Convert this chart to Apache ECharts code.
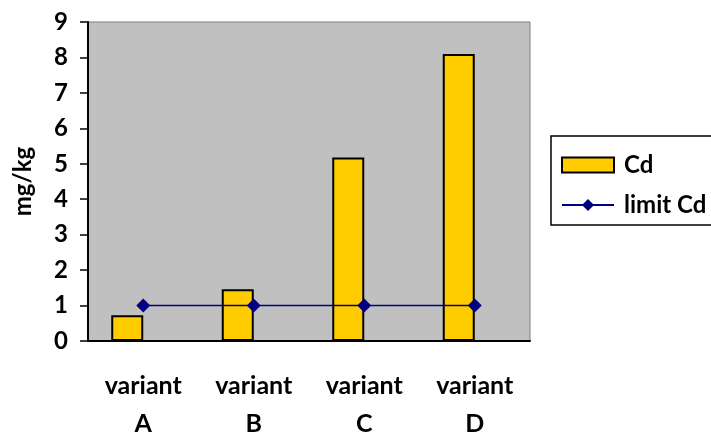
<!DOCTYPE html>
<html>
<head>
<meta charset="utf-8">
<script src="https://cdn.jsdelivr.net/npm/echarts@6/dist/echarts.min.js"></script>
<style>html,body{margin:0;padding:0;background:#fff}#c{width:711px;height:432px}</style>
</head>
<body>
<div id="c"></div>
<script>
const categories = ['variant\nA', 'variant\nB', 'variant\nC', 'variant\nD'];
const cdValues = [0.73, 1.46, 5.18, 8.1];
const limitValues = [1, 1, 1, 1];
const yTicks = [0, 1, 2, 3, 4, 5, 6, 7, 8, 9];

const font = 'Lato, "Open Sans", sans-serif';
const chart = echarts.init(document.getElementById('c'), null, {renderer: 'canvas'});
chart.setOption({
  animation: false,
  backgroundColor: '#ffffff',
  grid: {left: 88, right: 181, top: 22, bottom: 91, show: true, backgroundColor: '#C0C0C0',
         borderColor: '#808080', borderWidth: 1, containLabel: false, outerBoundsMode: 'none'},
  xAxis: {
    type: 'category', data: categories, boundaryGap: true,
    axisLine: {lineStyle: {color: '#000', width: 2}},
    axisTick: {interval: 0, length: 10, lineStyle: {color: '#000', width: 1.5}},
    axisLabel: {interval: 0, margin: 26, color: '#000', fontFamily: font, fontWeight: 'bold', fontSize: 25, lineHeight: 38}
  },
  yAxis: {
    type: 'value', min: yTicks[0], max: yTicks[yTicks.length - 1], interval: 1,
    name: 'mg/kg', nameLocation: 'middle', nameGap: 53, nameRotate: 90,
    nameTextStyle: {color: '#000', fontFamily: font, fontWeight: 'bold', fontSize: 24},
    splitLine: {show: false},
    axisLine: {show: true, lineStyle: {color: '#000', width: 2}},
    axisTick: {show: true, length: 8, lineStyle: {color: '#000', width: 1.5}},
    axisLabel: {margin: 20, color: '#000', fontFamily: font, fontWeight: 'bold', fontSize: 24}
  },
  legend: {
    orient: 'vertical', left: 551, top: 136,
    padding: [17, 60, 8, 10],
    borderColor: '#000', borderWidth: 1.5,
    itemWidth: 52, itemHeight: 15, itemGap: 16,
    data: [{name: 'Cd', icon: 'rect'}, 'limit Cd'],
    textStyle: {color: '#000', fontFamily: font, fontWeight: 'bold', fontSize: 24, padding: [0, 0, 0, 5]}
  },
  series: [
    {name: 'Cd', type: 'bar', data: cdValues, barWidth: 32, barGap: '0%',
     itemStyle: {color: '#FFCC00', borderColor: '#000', borderWidth: 2}},
    {name: 'ghost', type: 'bar', data: cdValues.map(() => '-'), barWidth: 32},
    {name: 'limit Cd', type: 'line', data: limitValues, symbol: 'diamond', symbolSize: 14,
     lineStyle: {color: '#000080', width: 1.5}, itemStyle: {color: '#000080'}}
  ]
});
</script>
</body>
</html>
